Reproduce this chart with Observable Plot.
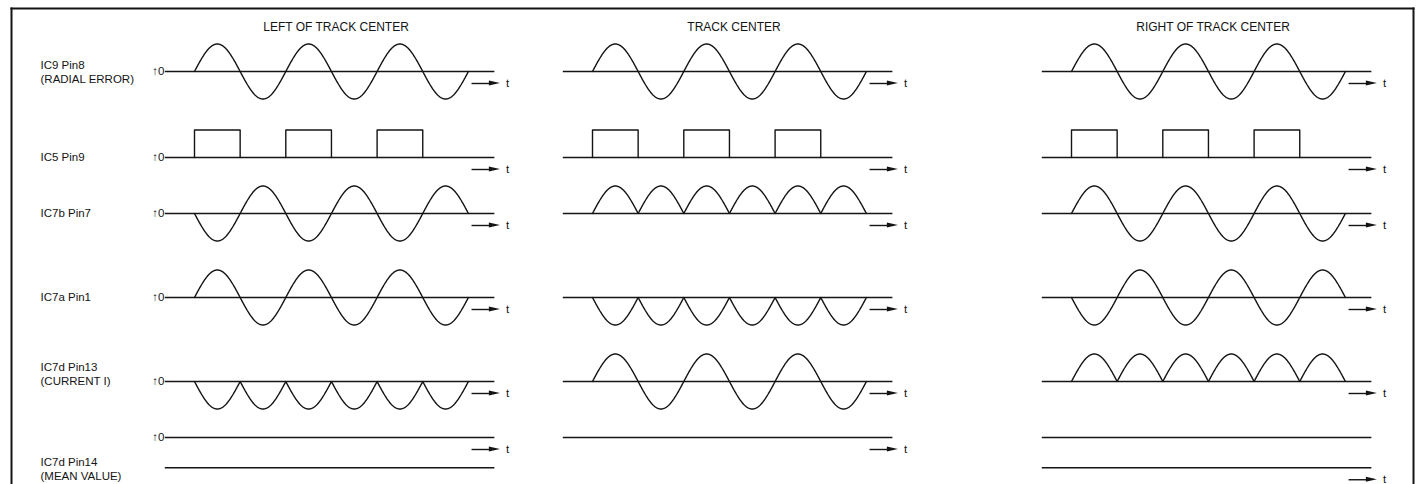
<!DOCTYPE html>
<html><head><meta charset="utf-8">
<script src="https://cdn.jsdelivr.net/npm/d3@7"></script>
<script src="https://cdn.jsdelivr.net/npm/@observablehq/plot@0.6"></script>
<style>html,body{margin:0;padding:0;background:#fff;overflow:hidden}</style>
</head><body><div id="chart"></div>
<script>
// ---------------- DATA ----------------
const panelTitles = ["LEFT OF TRACK CENTER", "TRACK CENTER", "RIGHT OF TRACK CENTER"];
const rowLabels = [
  ["IC9 Pin8", "(RADIAL ERROR)"],
  ["IC5 Pin9"],
  ["IC7b Pin7"],
  ["IC7a Pin1"],
  ["IC7d Pin13", "(CURRENT I)"],
  ["IC7d Pin14", "(MEAN VALUE)"]
];
// waveform kind of each row, per panel
const waveLeft   = ["sine", "square", "-sine", "sine",  "-rect", "dc"];
const waveCenter = ["sine", "square", "rect",  "-rect", "sine",  "dc"];
const waveRight  = ["sine", "square", "sine",  "-sine", "rect",  "dc"];
// IC7d Pin14 mean value, in units of the signal amplitude
const meanValues = [-1.1, 0, 1.1];
const cycles = 3;          // signal periods drawn in each panel
const pulseWidth = 0.5;    // square pulse width (fraction of a period)
const zeroLabel = "\u21910";
const timeLabel = "t";

// ---------------- LAYOUT ----------------
const W = 1419, H = 484;
const K = 91.3;            // px per period
const A = 27.5;            // px per amplitude unit
const T0 = 194;            // px of t=0 in the left panel
const R0 = 71;             // px of row 0 baseline
const mL = 11, mR = 6, mT = 8, mB = 0;
const panelStart = [0, 398 / K, 877 / K];
const rowBasePx = [71, 157, 213, 297, 381, 437];
const rowBase = rowBasePx.map(p => (R0 - p) / A);
const labelLinesPx = [[65, 79], [157], [213], [297], [367, 381], [462, 476]];
const baseFrom = -0.32, baseTo = 3.29;
const kinds = [waveLeft, waveCenter, waveRight];

const shapes = {
  "sine":  t => Math.sin(2 * Math.PI * t),
  "-sine": t => -Math.sin(2 * Math.PI * t),
  "rect":  t => Math.abs(Math.sin(2 * Math.PI * t)),
  "-rect": t => -Math.abs(Math.sin(2 * Math.PI * t))
};

const zeroOf = (p, r) => kinds[p][r] === "dc" ? rowBase[r] - Math.max(0, meanValues[p]) : rowBase[r];

const waves = [], baselines = [], shafts = [], heads = [], tTexts = [], zeros = [];
kinds.forEach((ks, p) => {
  ks.forEach((k, r) => {
    const y0 = zeroOf(p, r), x0 = panelStart[p];
    const key = p + "-" + r;
    baselines.push({x1: x0 + baseFrom, x2: x0 + baseTo, y: y0});
    if (k === "dc") {
      if (meanValues[p] !== 0) baselines.push({x1: x0 + baseFrom, x2: x0 + baseTo, y: y0 + meanValues[p]});
    } else if (k === "square") {
      for (let c = 0; c < cycles; c++) {
        const kk = key + "-" + c;
        [[c, 0], [c, 1], [c + pulseWidth, 1], [c + pulseWidth, 0]].forEach(([t, v]) =>
          waves.push({key: kk, x: x0 + t, y: y0 + v}));
      }
    } else {
      const n = 600;
      for (let i = 0; i <= n; i++) {
        const t = cycles * i / n;
        waves.push({key, x: x0 + t, y: y0 + shapes[k](t)});
      }
    }
    const ay = y0 - 12 / A;
    shafts.push({x1: x0 + 3.04, x2: x0 + 3.25, y: ay});
    heads.push({key, x: x0 + 3.23, y1: ay - 2.6 / A, y2: ay + 2.6 / A});
    heads.push({key, x: x0 + 3.35, y1: ay, y2: ay});
    tTexts.push({x: x0 + 3.43, y: ay});
    if (p === 0) zeros.push({x: x0 - 0.33, y: y0});
  });
});

const labelTexts = [];
rowLabels.forEach((lines, r) => lines.forEach((s, i) =>
  labelTexts.push({text: s, x: (40 - T0) / K, y: (R0 - labelLinesPx[r][i]) / A})));
const titleTexts = panelTitles.map((s, p) => ({text: s, x: panelStart[p] + 1.55, y: (R0 - 26.5) / A}));

const ink = "#141414";
const plot = Plot.plot({
  width: W, height: H,
  marginLeft: mL, marginRight: mR, marginTop: mT, marginBottom: mB,
  x: {domain: [(mL - T0) / K, (W - mR - T0) / K], axis: null},
  y: {domain: [(R0 - (H - mB)) / A, (R0 - mT) / A], axis: null},
  style: {fontFamily: "'Liberation Sans', Arial, Helvetica, sans-serif", background: "#fff", color: ink},
  marks: [
    Plot.frame({anchor: "left", stroke: ink, strokeWidth: 2}),
    Plot.frame({anchor: "top", stroke: ink, strokeWidth: 2}),
    Plot.frame({anchor: "right", stroke: ink, strokeWidth: 2}),
    Plot.ruleY(baselines, {x1: "x1", x2: "x2", y: "y", stroke: ink, strokeWidth: 1.4}),
    Plot.line(waves, {x: "x", y: "y", z: "key", stroke: ink, strokeWidth: 1.4, curve: "linear"}),
    Plot.ruleY(shafts, {x1: "x1", x2: "x2", y: "y", stroke: ink, strokeWidth: 1.4}),
    Plot.areaY(heads, {x: "x", y1: "y1", y2: "y2", z: "key", fill: ink, curve: "linear"}),
    Plot.text(tTexts, {x: "x", y: "y", text: () => timeLabel, fontSize: 11.5, fill: ink, textAnchor: "middle"}),
    Plot.text(zeros, {x: "x", y: "y", text: () => zeroLabel, fontSize: 11.5, fill: ink, textAnchor: "end"}),
    Plot.text(labelTexts, {x: "x", y: "y", text: "text", fontSize: 11.5, fill: ink, textAnchor: "start"}),
    Plot.text(titleTexts, {x: "x", y: "y", text: "text", fontSize: 12, fill: ink, textAnchor: "middle"})
  ]
});
document.getElementById("chart").appendChild(plot);
</script>
</body></html>
